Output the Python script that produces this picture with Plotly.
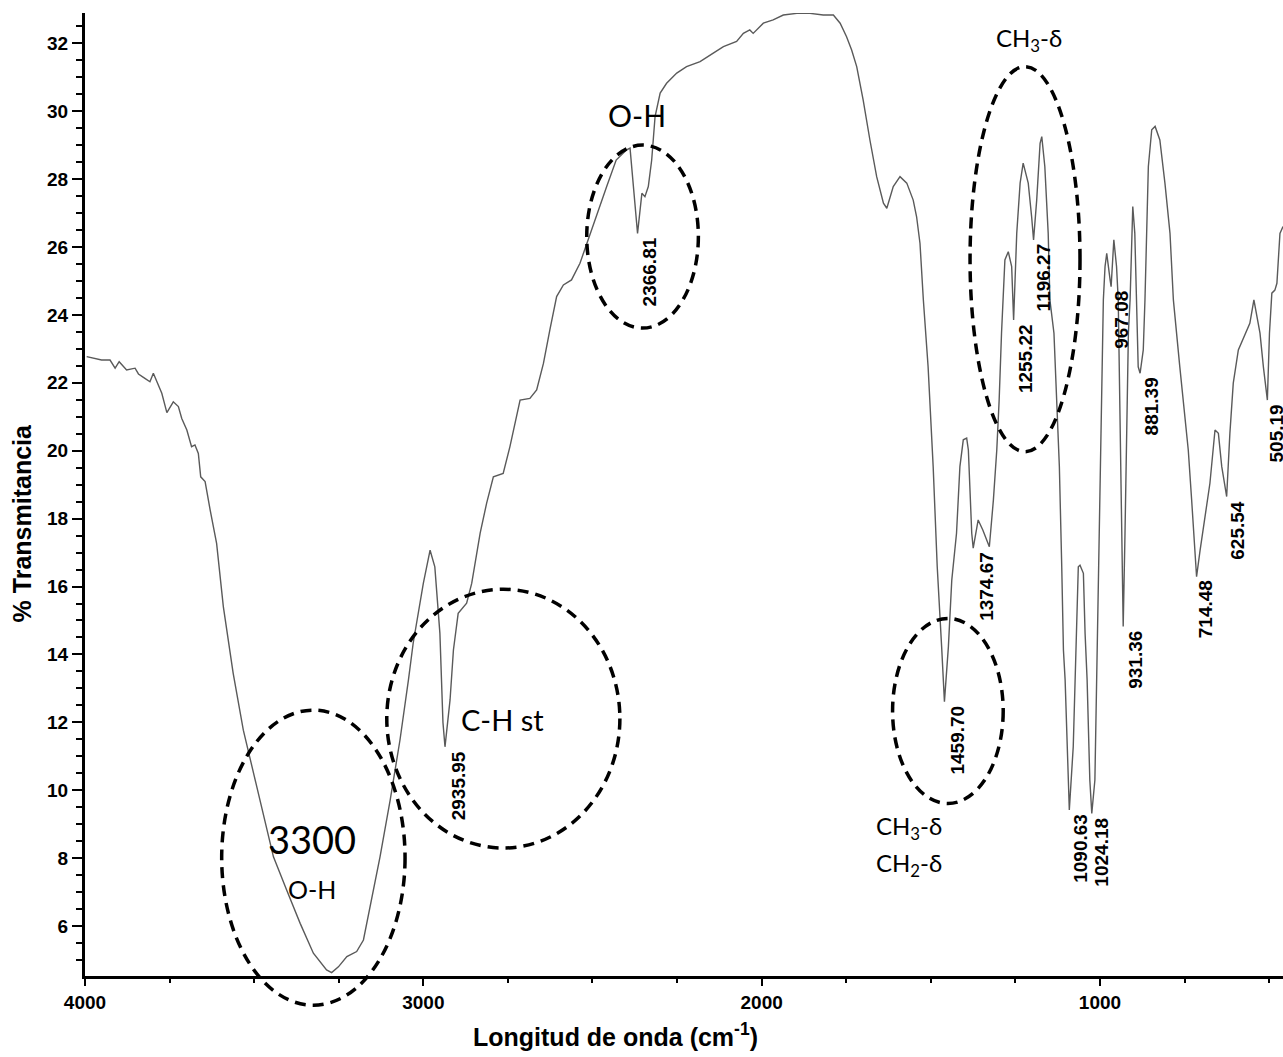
import plotly.graph_objects as go

# ---- data: IR spectrum (wavenumber cm^-1, % transmittance) ----
wavenumber = [
    3995, 3970, 3951, 3926, 3911, 3899, 3877, 3852, 3842, 3823,
    3808, 3798, 3773, 3758, 3739, 3724, 3714, 3699, 3685, 3675,
    3665, 3658, 3645, 3630, 3611, 3591, 3562, 3532, 3502, 3473,
    3443, 3404, 3364, 3325, 3286, 3271, 3251, 3226, 3197, 3177,
    3158, 3128, 3098, 3069, 3044, 3030, 3000, 2980, 2966, 2951,
    2942, 2935.95, 2921, 2911, 2897, 2872, 2857, 2832, 2813, 2793,
    2764, 2744, 2714, 2685, 2665, 2645, 2626, 2606, 2586, 2562,
    2537, 2507, 2488, 2458, 2430, 2399, 2389, 2379, 2366.81, 2354,
    2345, 2335, 2325, 2315, 2300, 2281, 2251, 2222, 2182, 2143,
    2113, 2074, 2054, 2035, 2025, 1995, 1966, 1936, 1896, 1857,
    1818, 1788, 1768, 1749, 1734, 1719, 1700, 1680, 1660, 1640,
    1630, 1611, 1591, 1571, 1552, 1542, 1532, 1522, 1508, 1493,
    1481, 1468, 1459.70, 1448, 1438, 1424, 1414, 1404, 1394, 1389,
    1379, 1374.67, 1360, 1346, 1327, 1315, 1305, 1298, 1291, 1281,
    1271, 1261, 1255.22, 1246, 1236, 1227, 1212, 1202, 1196.27, 1187,
    1177, 1172, 1163, 1153, 1148, 1136, 1128, 1120, 1113, 1108,
    1103, 1094, 1090.63, 1079, 1069, 1064, 1059, 1049, 1044, 1038,
    1030, 1024.18, 1015, 1010, 1005, 1000, 995, 990, 985, 980,
    970, 967.08, 959, 951, 946, 941, 936, 933, 931.36, 926,
    921, 916, 911, 906, 903, 897, 892, 887, 881.39, 872,
    867, 862, 857, 847, 837, 823, 808, 793, 783, 764,
    754, 739, 729, 714.48, 704, 690, 675, 660, 650, 640,
    625.54, 616, 606, 591, 571, 557, 545, 527, 517, 505.19,
    499, 492, 483, 477, 468, 459,
]
transmittance = [
    22.77, 22.72, 22.67, 22.67, 22.43, 22.62, 22.38, 22.43, 22.26, 22.13,
    22.03, 22.28, 21.69, 21.12, 21.44, 21.30, 20.95, 20.61, 20.12, 20.17,
    19.92, 19.23, 19.09, 18.25, 17.27, 15.40, 13.44, 11.77, 10.50, 9.32,
    8.04, 7.06, 6.08, 5.20, 4.71, 4.63, 4.80, 5.10, 5.25, 5.59,
    6.57, 8.04, 9.71, 11.48, 13.25, 14.33, 16.09, 17.07, 16.58, 14.62,
    12.00, 11.28, 12.66, 14.13, 15.21, 15.51, 16.09, 17.57, 18.45, 19.23,
    19.33, 20.12, 21.49, 21.54, 21.79, 22.57, 23.56, 24.54, 24.88, 25.03,
    25.52, 26.40, 26.89, 27.78, 28.56, 28.86, 28.91, 27.88, 26.40, 27.58,
    27.48, 27.78, 28.56, 29.84, 30.53, 30.82, 31.12, 31.31, 31.46, 31.71,
    31.90, 32.05, 32.29, 32.39, 32.29, 32.59, 32.69, 32.83, 32.88, 32.88,
    32.83, 32.83, 32.59, 32.19, 31.80, 31.31, 30.33, 29.15, 28.07, 27.29,
    27.14, 27.78, 28.07, 27.88, 27.38, 26.89, 26.11, 24.44, 22.47, 19.53,
    16.58, 14.23, 12.61, 14.23, 16.19, 17.57, 19.53, 20.32, 20.37, 20.02,
    17.57, 17.13, 17.96, 17.66, 17.17, 18.55, 20.02, 21.49, 23.46, 25.62,
    25.86, 25.42, 23.85, 26.40, 27.88, 28.47, 27.88, 26.89, 26.21, 27.38,
    29.05, 29.25, 28.37, 26.40, 24.44, 23.46, 21.49, 19.53, 16.58, 14.13,
    13.25, 10.30, 9.42, 11.28, 14.40, 16.58, 16.63, 16.39, 14.62, 13.25,
    10.30, 9.32, 10.30, 13.25, 16.58, 19.53, 22.47, 24.44, 25.42, 25.81,
    25.03, 24.83, 26.21, 25.42, 24.44, 21.49, 18.55, 16.09, 14.82, 17.57,
    20.51, 23.46, 24.44, 26.40, 27.19, 26.40, 24.44, 22.47, 22.28, 22.97,
    24.44, 26.40, 28.37, 29.45, 29.55, 29.15, 27.88, 26.40, 24.44, 22.47,
    21.49, 20.02, 18.55, 16.29, 17.07, 18.06, 19.04, 20.61, 20.51, 19.53,
    18.65, 20.51, 21.99, 22.97, 23.46, 23.75, 24.44, 23.46, 22.47, 21.49,
    23.46, 24.64, 24.73, 24.93, 26.40, 26.60,
]

# labelled peaks
peak_wavenumbers = [2935.95, 2366.81, 1459.70, 1374.67, 1255.22, 1196.27, 1090.63,
                    1024.18, 967.08, 931.36, 881.39, 714.48, 625.54, 505.19]
peak_labels = ["2935.95", "2366.81", "1459.70", "1374.67", "1255.22", "1196.27", "1090.63",
               "1024.18", "967.08", "931.36", "881.39", "714.48", "625.54", "505.19"]
peak_label_xshift = [13, 12, 13, 13, 12, 10, 11, 10, 11, 12, 11, 9, 10, 9]

# band assignment texts: (text, wavenumber, transmittance, font size)
band_texts = [
    ("3300", 3329, 8.56, 38),
    ("O-H", 3329, 7.10, 25),
    ("C-H st", 2765, 12.07, 29),
    ("O-H", 2368, 29.89, 30),
    ("CH<sub>3</sub>-δ", 1210, 32.12, 24),
    ("CH<sub>3</sub>-δ", 1565, 8.89, 24),
    ("CH<sub>2</sub>-δ", 1565, 7.80, 24),
]
# dashed ellipses (wn_left, wn_right, T_bottom, T_top)
ellipses = [
    (3596, 3054, 3.67, 12.36),
    (3108, 2419, 8.30, 15.92),
    (2517, 2187, 23.61, 29.00),
    (1613, 1286, 9.61, 15.06),
    (1384, 1059, 19.97, 31.31),
]

X_RANGE = [4000, 459]
Y_RANGE = [4.53, 32.89]

def paper_x(wn):
    return (X_RANGE[0] - wn) / (X_RANGE[0] - X_RANGE[1])

def paper_y(t):
    return (t - Y_RANGE[0]) / (Y_RANGE[1] - Y_RANGE[0])

AXFONT = "Liberation Sans, Arial, sans-serif"
TXTFONT = "Lato, Carlito, Calibri, sans-serif"

fig = go.Figure()
fig.add_trace(go.Scatter(x=wavenumber, y=transmittance, mode="lines",
                         line=dict(color="#5a5a5a", width=1.4), showlegend=False,
                         hoverinfo="skip"))

t_lookup = dict(zip(wavenumber, transmittance))
annotations = []
for wn, lab, xs in zip(peak_wavenumbers, peak_labels, peak_label_xshift):
    annotations.append(dict(x=wn, y=t_lookup[wn], xref="x", yref="y", text=lab,
                            textangle=-90, showarrow=False, xanchor="center",
                            yanchor="top", xshift=xs, yshift=-2,
                            font=dict(family=AXFONT, size=19, color="black",
                                      weight="bold")))
for txt, wn, t, fs in band_texts:
    annotations.append(dict(x=wn, y=t, xref="x", yref="y", text=txt, showarrow=False,
                            xanchor="center", yanchor="middle",
                            font=dict(family=TXTFONT, size=fs, color="black")))
# axis titles
annotations.append(dict(x=-0.0526, y=0.47, xref="paper", yref="paper",
                        text="% Transmitancia", textangle=-90, showarrow=False,
                        xanchor="center", yanchor="middle",
                        font=dict(family=AXFONT, size=25, color="black", weight="bold")))
annotations.append(dict(x=0.443, y=-0.061, xref="paper", yref="paper",
                        text="Longitud de onda (cm<sup>-1</sup>)", showarrow=False,
                        xanchor="center", yanchor="middle",
                        font=dict(family=AXFONT, size=25, color="black", weight="bold")))

shapes = []
for wl, wr, tb, tt in ellipses:
    shapes.append(dict(type="circle", xref="paper", yref="paper",
                       x0=paper_x(wl), x1=paper_x(wr), y0=paper_y(tb), y1=paper_y(tt),
                       line=dict(color="black", width=3.5, dash="11px,7px")))

fig.update_layout(
    width=1283, height=1057,
    margin=dict(l=85, r=0, t=13, b=81),
    paper_bgcolor="white", plot_bgcolor="white",
    annotations=annotations, shapes=shapes,
    xaxis=dict(range=X_RANGE, autorange=False, tick0=0, dtick=1000,
               showline=True, linecolor="black", linewidth=3,
               ticks="outside", ticklen=7, tickwidth=2, tickcolor="black",
               minor=dict(dtick=250, ticklen=4, tickwidth=1.5, tickcolor="black",
                          ticks="outside", showgrid=False),
               showgrid=False, zeroline=False,
               tickfont=dict(family=AXFONT, size=19, color="black", weight="bold")),
    yaxis=dict(range=Y_RANGE, autorange=False, tick0=0, dtick=2,
               showline=True, linecolor="black", linewidth=3,
               ticks="outside", ticklen=10, tickwidth=2, tickcolor="black",
               minor=dict(dtick=0.5, ticklen=6, tickwidth=1.5, tickcolor="black",
                          ticks="outside", showgrid=False),
               showgrid=False, zeroline=False,
               tickfont=dict(family=AXFONT, size=19, color="black", weight="bold")),
)

fig.write_html("out.html")
